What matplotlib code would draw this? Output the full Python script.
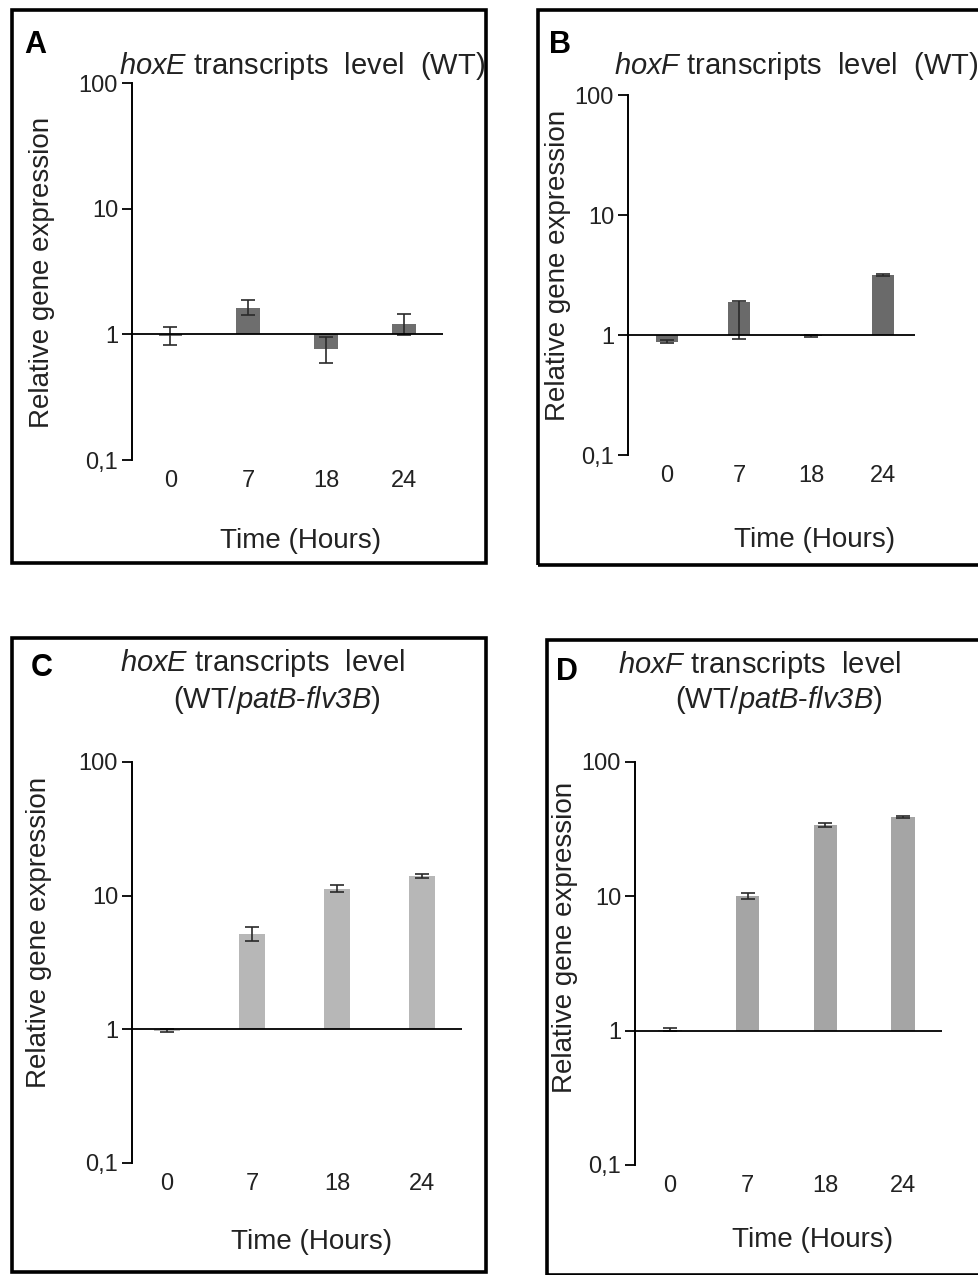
import matplotlib
matplotlib.use("Agg")
import matplotlib.pyplot as plt
from matplotlib.patches import Rectangle

plt.rcParams['font.family'] = ['Liberation Sans', 'DejaVu Sans']
plt.rcParams['mathtext.fontset'] = 'custom'
plt.rcParams['mathtext.rm'] = 'Liberation Sans'
plt.rcParams['mathtext.it'] = 'Liberation Sans:italic'
plt.rcParams['mathtext.sf'] = 'Liberation Sans:italic'

# ---------------- data ----------------
time_labels = ["0", "7", "18", "24"]
ytick_vals = [0.1, 1, 10, 100]
ytick_labels = ["0,1", "1", "10", "100"]

A_mean = [0.97, 1.62, 0.77, 1.20]
A_err_lo = [0.15, 0.20, 0.18, 0.22]
A_err_hi = [0.18, 0.26, 0.18, 0.25]

B_mean = [0.88, 1.88, 0.98, 3.15]
B_err_lo = [0.03, 0.95, 0.02, 0.05]
B_err_hi = [0.03, 0.05, 0.02, 0.05]

C_mean = [0.98, 5.2, 11.3, 14.0]
C_err_lo = [0.02, 0.6, 0.7, 0.4]
C_err_hi = [0.02, 0.6, 0.7, 0.4]

D_mean = [1.02, 10.0, 34.0, 39.0]
D_err_lo = [0.02, 0.5, 1.0, 0.8]
D_err_hi = [0.02, 0.5, 1.0, 0.8]

W, H = 979, 1275
fig = plt.figure(figsize=(W / 100, H / 100), dpi=100)


def fx(px):
    return px / W


def fy(py):
    return 1 - py / H


def box(x0, y0, x1, y1):
    fig.patches.append(Rectangle((fx(x0), fy(y1)), fx(x1) - fx(x0), fy(y0) - fy(y1),
                                 transform=fig.transFigure, fill=False,
                                 edgecolor='black', linewidth=2.6, zorder=0))


def panel(rect, xlim, mean, lo, hi, color, bw):
    l, t, r, b = rect
    ax = fig.add_axes([fx(l), fy(b), fx(r) - fx(l), fy(t) - fy(b)])
    ax.set_yscale('log')
    ax.set_ylim(0.1, 100)
    ax.set_xlim(*xlim)
    xs = list(range(len(mean)))
    heights = [m - 1 for m in mean]
    ax.bar(xs, heights, bottom=1, width=bw, color=color, edgecolor='none', zorder=2)
    ax.errorbar(xs, mean, yerr=[lo, hi], fmt='none', ecolor='#2a2a2a',
                elinewidth=1.2, capsize=5, capthick=1.2, zorder=3)
    ax.axhline(1, color='black', linewidth=1.3, zorder=4)
    for s in ['top', 'right', 'bottom']:
        ax.spines[s].set_visible(False)
    ax.spines['left'].set_linewidth(1.4)
    ax.set_yticks(ytick_vals)
    ax.set_yticklabels(ytick_labels)
    ax.yaxis.set_minor_locator(matplotlib.ticker.NullLocator())
    ax.tick_params(axis='y', direction='out', length=7, width=1.3, labelsize=17,
                   pad=3, labelcolor='#222222')
    ax.set_xticks(xs)
    ax.set_xticklabels(time_labels)
    ax.tick_params(axis='x', length=0, labelsize=17, pad=7, labelcolor='#222222')
    ax.patch.set_alpha(0)
    return ax


# boxes
box(12, 10, 486, 563)
box(538, 10, 985, 565)
box(12, 638, 486, 1272)
box(547, 640, 985, 1275)

# panels
panel((132, 83, 443, 460), (-0.49, 3.5), A_mean, A_err_lo, A_err_hi, '#6e6e6e', 0.30)
panel((628, 95, 915, 455), (-0.54, 3.44), B_mean, B_err_lo, B_err_hi, '#6a6a6a', 0.30)
panel((132, 762, 462, 1163), (-0.41, 3.47), C_mean, C_err_lo, C_err_hi, '#b7b7b7', 0.30)
panel((635, 762, 942, 1165), (-0.45, 3.5), D_mean, D_err_lo, D_err_hi, '#a5a5a5', 0.30)

tfs = 21
# panel letters
for lab, x, y in [("A", 35, 45), ("B", 560, 45), ("C", 42, 668), ("D", 567, 672)]:
    fig.text(fx(x), fy(y), lab, fontsize=22, fontweight='bold', ha='center', va='center')

# titles
fig.text(fx(302), fy(66), r"$\mathsf{hoxE}$ transcripts  level  (WT)", fontsize=tfs,
         ha='center', va='center', color='#222222')
fig.text(fx(796), fy(66), r"$\mathsf{hoxF}$ transcripts  level  (WT)", fontsize=tfs,
         ha='center', va='center', color='#222222')
fig.text(fx(262), fy(663), r"$\mathsf{hoxE}$ transcripts  level", fontsize=tfs,
         ha='center', va='center', color='#222222')
fig.text(fx(277), fy(700), r"(WT/$\mathsf{patB}$-$\mathsf{flv3B}$)", fontsize=tfs,
         ha='center', va='center', color='#222222')
fig.text(fx(760), fy(665), r"$\mathsf{hoxF}$ transcripts  level", fontsize=tfs,
         ha='center', va='center', color='#222222')
fig.text(fx(779), fy(700), r"(WT/$\mathsf{patB}$-$\mathsf{flv3B}$)", fontsize=tfs,
         ha='center', va='center', color='#222222')

# y labels
for x, y in [(42, 272), (558, 265), (39, 932), (565, 937)]:
    fig.text(fx(x), fy(y), "Relative gene expression", fontsize=20, rotation=90,
             ha='center', va='center', color='#222222')

# x labels
for x, y in [(301, 541), (815, 540), (312, 1242), (813, 1240)]:
    fig.text(fx(x), fy(y), "Time (Hours)", fontsize=20, ha='center', va='center',
             color='#222222')

fig.savefig("out.png", dpi=100)
